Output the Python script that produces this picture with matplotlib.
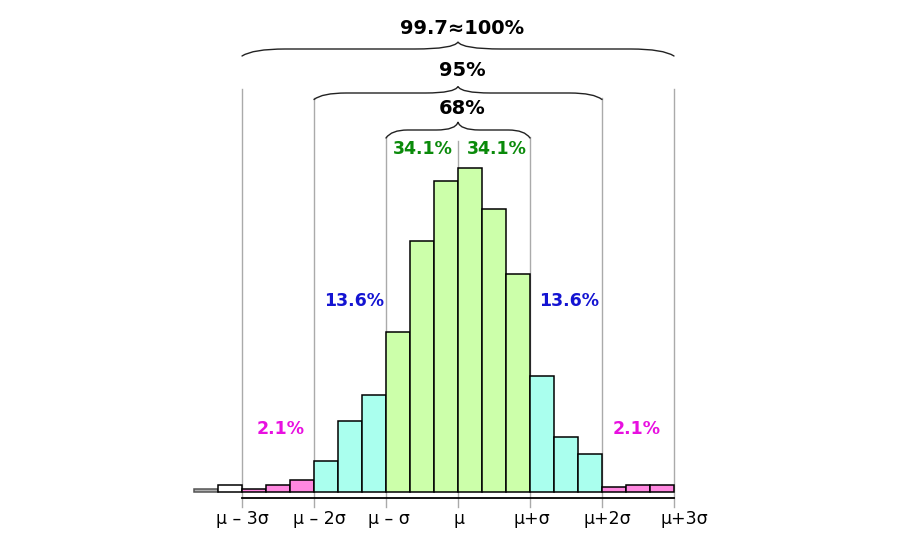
import numpy as np
import matplotlib
matplotlib.use("Agg")
import matplotlib.pyplot as plt
from matplotlib.patches import PathPatch
from matplotlib.path import Path

# histogram of a normal sample, bins one third of a sigma wide
bin_edges = np.arange(-11, 10) / 3.0          # in units of sigma, mu = 0
counts = [3, 7, 3, 7, 12, 31, 71, 97, 160, 251,
          311, 324, 283, 218, 116, 55, 38, 5, 7, 7]
bin_groups = ["out", "none", "pink", "pink", "pink", "cyan", "cyan", "cyan",
              "green", "green", "green", "green", "green", "green",
              "cyan", "cyan", "cyan", "pink", "pink", "pink"]

tick_pos = [-3, -2, -1, 0, 1, 2, 3]
tick_labels = ["μ – 3σ", "μ – 2σ", "μ – σ", "μ", "μ+σ", "μ+2σ", "μ+3σ"]

band_labels = ["2.1%", "13.6%", "34.1%", "34.1%", "13.6%", "2.1%"]
band_x = [-2.46, -1.44, -0.49, 0.54, 1.54, 2.48]
band_y = [63, 191, 343, 343, 191, 63]
band_colors = ["#e810e0", "#1414d2", "#0a8a0a", "#0a8a0a", "#1414d2", "#e810e0"]

brace_labels = ["68%", "95%", "99.7≈100%"]
brace_halfwidth = [1, 2, 3]

FILL = {"green": "#ccffaa", "cyan": "#aaffee", "pink": "#ff88e0",
        "none": "#ffffff", "out": "#b0b0b0"}


def brace(ax, x0, x1, y, h, q):
    # curly brace opening downwards, tip up at the middle
    xm = (x0 + x1) / 2
    verts = [(x0, y - h), (x0 + 0.25 * q, y), (x0 + q, y),
             (xm - q, y),
             (xm - 0.1 * q, y), (xm, y + h),
             (xm + 0.1 * q, y), (xm + q, y),
             (x1 - q, y),
             (x1 - 0.25 * q, y), (x1, y - h)]
    codes = [Path.MOVETO, Path.CURVE3, Path.CURVE3, Path.LINETO, Path.CURVE3,
             Path.CURVE3, Path.CURVE3, Path.CURVE3, Path.LINETO, Path.CURVE3,
             Path.CURVE3]
    ax.add_patch(PathPatch(Path(verts, codes), fill=False, lw=1.0,
                           edgecolor="#222222", capstyle="round"))


fig = plt.figure(figsize=(9, 5.6), dpi=100)
ax = fig.add_axes([0, 0, 1, 1])
ax.set_xlim(-458 / 72, (900 - 458) / 72)
ax.set_ylim(-68.5, 491.5)
ax.axis("off")

# bars
widths = np.diff(bin_edges)
colors = [FILL[g] for g in bin_groups]
edges = ["#555555" if g == "out" else "black" for g in bin_groups]
ax.bar(bin_edges[:-1], counts, width=widths, align="edge", color=colors,
       edgecolor=edges, linewidth=1.1, zorder=3)

# sigma guide lines
guide_top = {0: 351, 1: 355, 2: 394, 3: 403}
for t in tick_pos:
    ax.plot([t, t], [-15.5, guide_top[abs(t)]], color="#aaaaaa", lw=1.0, zorder=1)

# axis line
ax.plot([tick_pos[0], tick_pos[-1]], [-6.8, -6.8], color="black", lw=1.3, zorder=2)

# tick labels
nudge = [0.01, 0.08, 0.04, 0.01, 0.03, 0.07, 0.14]
for t, lab, n in zip(tick_pos, tick_labels, nudge):
    ax.text(t + n, -27.5, lab, ha="center", va="center", fontsize=12.5,
            family="DejaVu Sans")

# percentage labels per band
for x, y, lab, c in zip(band_x, band_y, band_labels, band_colors):
    ax.text(x, y, lab, ha="center", va="center", fontsize=12.5,
            fontweight="bold", color=c)

# braces and their labels
brace_y = [361.5, 398.5, 442.5]
brace_h = [8, 6.5, 7]
brace_q = [0.3, 0.45, 0.6]
text_y = [383.5, 421.5, 463.5]
for hw, lab, by, bh, bq, ty in zip(brace_halfwidth, brace_labels, brace_y,
                                     brace_h, brace_q, text_y):
    brace(ax, -hw, hw, by, bh, bq)
    ax.text(0.06, ty, lab, ha="center", va="center", fontsize=14,
            fontweight="bold", color="black")

fig.savefig("out.png", dpi=100, facecolor="white")
